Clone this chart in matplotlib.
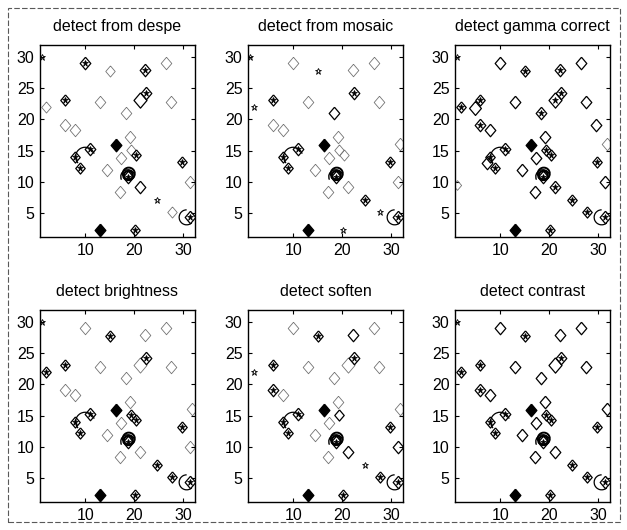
import matplotlib
matplotlib.use("Agg")
import matplotlib.pyplot as plt
from matplotlib.patches import Arc, Rectangle

plt.rcParams["font.family"] = ["Liberation Sans", "DejaVu Sans"]

W, H = 627, 530

TITLES = ["detect from despe", "detect from mosaic", "detect gamma correct",
          "detect brightness", "detect soften", "detect contrast"]

X_TICKS = [10, 20, 30]
Y_TICKS = [5, 10, 15, 20, 25, 30]

# common detection positions
PX = [10.0, 15.1, 22.3, 26.5, 1.3, 5.9, 4.9, 2.0, 13.1, 21.2, 22.4, 27.5, 18.4,
      5.9, 8.0, 29.5, 19.2, 16.3, 31.8, 11.0, 19.3, 8.0, 7.3, 9.0, 14.4, 17.3,
      20.3, 18.8, 21.2, 17.1, 24.6, 27.7, 31.4, 29.7, 31.4, 13.1, 20.2, 1.2]
PY = [29.0, 27.8, 27.9, 29.0, 30.0, 23.1, 21.8, 22.0, 22.8, 23.1, 24.2, 22.8, 21.0,
      19.1, 18.3, 19.1, 17.1, 15.9, 16.0, 15.2, 15.1, 14.0, 13.0, 12.2, 11.9, 13.8,
      14.3, 10.8, 9.2, 8.4, 7.1, 5.2, 4.4, 13.2, 10.0, 2.3, 2.3, 9.5]
PS = [9, 8, 9, 9, 5, 8, 10, 8, 9, 11, 9, 9, 9,
      9, 9, 9, 9, 9, 9, 9, 8, 8, 9, 8, 9, 9,
      8, 9, 9, 9, 8, 8, 9, 8, 9, 9, 8, 7]

# D open, S open with star, F filled, f faint, * small star, . none
CODES_DESPE      = "S f S f * S . f f D S f f f f . f F . S f S . S f f S S D f * f S S f F S .".split()
CODES_MOSAIC     = "f * f f * S . * f . S f D f f . f F f S f S . S f f f S f f S * S S f F * .".split()
CODES_GAMMA      = "D S S D * S D S D S S D S S D D D F f S S S D S D D S S S D S S S S D F S f".split()
CODES_BRIGHTNESS = "f S f f * S . S f f S f f f f . f F f S S S . S f f S S f f S S S S f F S .".split()
CODES_SOFTEN     = "f S D f . S . * f f S f f S f . f F f S D S . S f f . S D f * S S S D F S .".split()
CODES_CONTRAST   = "D S D D * S . S D D S D D S D . D F D S S S . S D D S S D D S S S S . F S .".split()
CODES = [CODES_DESPE, CODES_MOSAIC, CODES_GAMMA,
         CODES_BRIGHTNESS, CODES_SOFTEN, CODES_CONTRAST]

# circles / arcs (center, radius in px, angle span, line width)
CIRC_X = [10.0, 18.8, 18.9, 18.7, 30.7]
CIRC_Y = [14.0, 11.0, 11.3, 10.8, 4.3]
CIRC_R = [9.5, 4.5, 6.0, 7.0, 7.5]
CIRC_T1 = [15, 0, 0, 20, 90]
CIRC_T2 = [215, 360, 360, 200, 320]
CIRC_LW = [0.9, 1.6, 1.4, 1.0, 0.9]

XLIM = (0.8, 32.4)
YLIM = (1.15, 31.9)

diamond = [(0, 1), (0.85, 0), (0, -1), (-0.85, 0), (0, 1)]

fig = plt.figure(figsize=(W / 100, H / 100), dpi=100)
fig.patches.append(Rectangle((8 / W, 8 / H), (620 - 8) / W, (522 - 8) / H,
                             transform=fig.transFigure, fill=False,
                             edgecolor="0.35", lw=0.8, linestyle=(0, (5, 2))))

lefts = [40, 248, 455]
tops = [45, 310]
aw, ah = 155, 192

for i in range(6):
    r, c = divmod(i, 3)
    ax = fig.add_axes([lefts[c] / W, (H - tops[r] - ah) / H, aw / W, ah / H])
    ax.set_xlim(*XLIM)
    ax.set_ylim(*YLIM)
    codes = CODES[i]
    for x, y, s, code in zip(PX, PY, PS, codes):
        if code == ".":
            continue
        if code == "F":
            ax.plot(x, y, marker=diamond, ms=s, mfc="black", mec="black", mew=1.0)
        elif code == "f":
            ax.plot(x, y, marker=diamond, ms=s, mfc="none", mec="0.45", mew=0.6)
        elif code == "*":
            ax.plot(x, y, marker="*", ms=5, mfc="none", mec="black", mew=0.6)
        else:
            ax.plot(x, y, marker=diamond, ms=s, mfc="none", mec="black", mew=0.9)
            if code == "S":
                ax.plot(x, y, marker="*", ms=5, mfc="black", mec="black", mew=0.5)
    pxu = aw / (XLIM[1] - XLIM[0])
    pyu = ah / (YLIM[1] - YLIM[0])
    for cx, cy, cr, t1, t2, lw in zip(CIRC_X, CIRC_Y, CIRC_R, CIRC_T1, CIRC_T2, CIRC_LW):
        ax.add_patch(Arc((cx, cy), 2 * cr / pxu, 2 * cr / pyu, theta1=t1,
                         theta2=t2, color="black", lw=lw))
    ax.set_xticks(X_TICKS)
    ax.set_yticks(Y_TICKS)
    ax.tick_params(direction="in", top=True, right=True, length=3, width=0.8,
                   labelsize=11.5, pad=4)
    for sp in ax.spines.values():
        sp.set_linewidth(1.0)
    ax.set_title(TITLES[i], fontsize=11.5, pad=10)

fig.savefig("out.png", dpi=100)
